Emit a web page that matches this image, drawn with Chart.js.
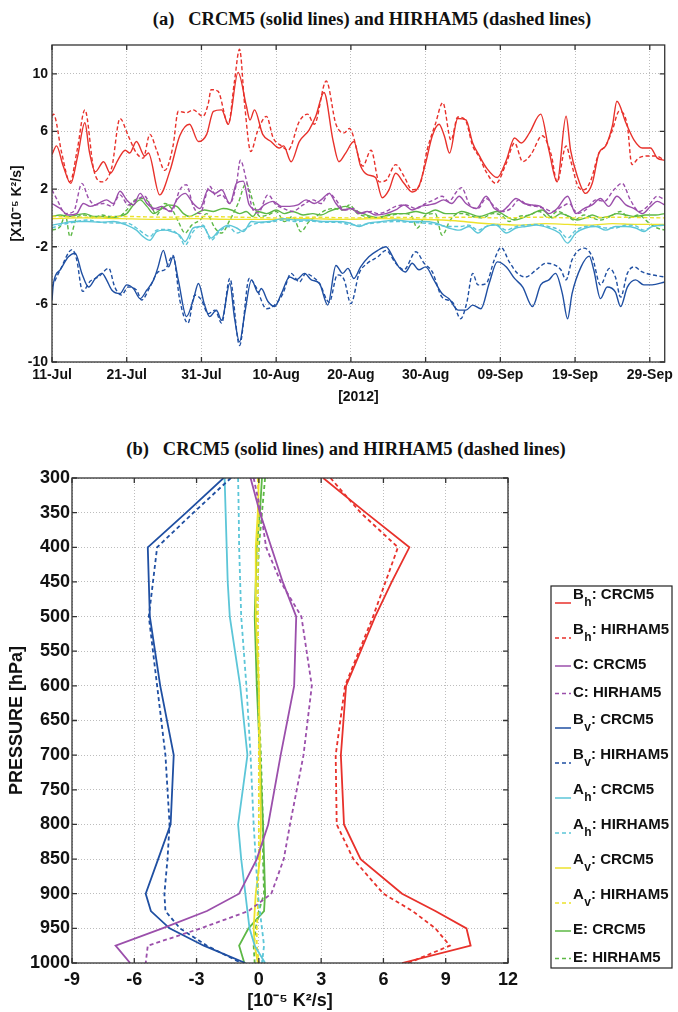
<!DOCTYPE html>
<html>
<head>
<meta charset="utf-8">
<script src="https://cdn.jsdelivr.net/npm/chart.js@4.4.0/dist/chart.umd.min.js"></script>
<style>
html, body { margin: 0; padding: 0; background: #fff; width: 678px; height: 1012px; overflow: hidden; position: relative; }
canvas { position: absolute; left: 0; }
#top { top: 0; }
#bot { top: 420px; }
.ttl { position: absolute; font: bold 18.5px "Liberation Serif", "Times New Roman", serif; color: #111; white-space: pre; transform: translateX(-50%); }
</style>
</head>
<body>
<div class="ttl" style="left:372px;top:9px">(a)   CRCM5 (solid lines) and HIRHAM5 (dashed lines)</div>
<canvas id="top" width="678" height="410"></canvas>
<div class="ttl" style="left:346px;top:439px">(b)   CRCM5 (solid lines) and HIRHAM5 (dashed lines)</div>
<canvas id="bot" width="678" height="592"></canvas>
<script>
// ---- panel (a): time series, [day since 11-Jul, value] ----
const dayTicks = [0, 10, 20, 30, 40, 50, 60, 70, 80];
const dayLabels = ["11-Jul", "21-Jul", "31-Jul", "10-Aug", "20-Aug", "30-Aug", "09-Sep", "19-Sep", "29-Sep"];
const topYTicks = [-10, -6, -2, 2, 6, 10];

const bhC_t = [[0,4.4],[0.6,5.0],[1.5,3.6],[2.5,2.4],[3.4,4.2],[4.4,6.6],[5.0,4.6],[5.8,3.2],[6.9,3.9],[7.8,3.1],[8.8,4.0],[9.8,4.7],[10.4,4.5],[11.3,5.3],[12.4,4.3],[12.9,4.5],[14.4,1.6],[15.8,3.3],[17.1,5.7],[18.4,6.5],[19.6,5.3],[20.7,5.8],[21.6,7.4],[22.7,7.5],[23.6,6.5],[24.9,10.1],[26.0,7.8],[26.5,6.8],[27.1,7.5],[28.2,5.8],[29.3,5.3],[30.4,4.85],[31.0,5.0],[32.0,3.9],[33.1,5.3],[34.4,6.1],[35.3,7.05],[36.4,8.7],[37.6,5.4],[38.4,3.9],[39.3,4.5],[40.4,5.3],[41.3,3.6],[42.2,3.0],[43.3,2.8],[44.2,1.4],[45.1,1.95],[46.0,3.1],[47.1,2.4],[48.2,1.8],[49.1,2.2],[50.0,3.8],[50.9,5.7],[51.8,6.5],[52.5,5.7],[53.2,4.5],[54.3,6.9],[55.4,6.8],[56.3,5.2],[57.2,4.3],[58.1,3.5],[59.6,2.8],[60.8,4.0],[61.9,5.55],[62.8,5.2],[63.9,5.9],[65.4,7.2],[66.5,4.7],[67.6,2.5],[68.8,7.05],[69.4,4.7],[70.3,2.9],[71.4,1.7],[72.3,2.4],[73.2,4.5],[74.1,5.0],[75.0,6.4],[75.6,8.1],[76.8,6.6],[77.9,5.4],[79.0,4.85],[80.1,4.85],[81.0,4.15],[82,4.0]];
const bhH_t = [[0,7.05],[0.2,7.2],[1.3,4.5],[2.4,2.5],[3.4,4.8],[4.4,7.5],[5.6,3.3],[6.7,2.5],[8.0,3.5],[9.1,6.9],[10.2,5.7],[11.3,4.5],[12.2,4.15],[13.1,5.8],[14.0,4.7],[15.1,3.3],[16.2,5.0],[16.9,7.4],[18.0,7.3],[18.9,7.5],[20.2,7.05],[20.9,7.9],[21.3,8.9],[22.2,8.8],[23.6,6.5],[24.4,9.4],[25.1,11.7],[25.8,7.75],[26.6,4.6],[27.5,6.0],[28.7,7.05],[29.6,5.55],[30.7,5.0],[31.6,4.7],[33.1,6.7],[34.2,7.2],[35.1,6.5],[36.7,9.5],[38.0,6.5],[39.1,5.9],[39.8,6.2],[41.6,3.6],[42.7,4.7],[43.8,2.5],[44.7,2.6],[46.0,3.7],[47.1,2.9],[48.2,1.95],[49.3,2.4],[50.2,4.7],[51.3,6.5],[52.3,8.0],[53.4,5.4],[54.3,7.0],[55.3,6.8],[56.3,5.0],[57.2,4.2],[58.1,3.2],[59.4,2.4],[60.8,3.8],[61.9,5.2],[63.0,3.9],[64.1,4.4],[65.6,5.7],[66.8,4.4],[67.6,2.5],[68.8,5.0],[69.4,4.0],[70.5,2.1],[71.2,1.95],[72.1,2.6],[73.2,4.5],[74.1,5.0],[75.0,6.1],[75.9,7.4],[77.0,6.4],[77.6,3.7],[78.5,4.15],[79.9,4.3],[80.8,4.3],[82,4.0]];
const cC_t = [[0,1.0],[1.1,0.65],[2.2,0.2],[3.3,0.3],[4.2,1.0],[5.1,0.8],[6.2,1.0],[7.3,1.25],[8.2,1.0],[9.1,1.85],[10.0,1.25],[10.9,0.9],[11.8,1.7],[12.7,1.0],[13.8,0.65],[14.7,0.8],[15.8,0.45],[16.7,1.25],[17.8,1.7],[18.9,1.0],[19.8,0.65],[20.9,1.95],[21.8,1.7],[22.7,1.95],[23.8,1.0],[24.7,2.4],[25.6,2.55],[26.4,0.9],[27.6,0.55],[28.4,0.9],[29.6,1.15],[30.7,0.8],[31.8,0.8],[32.9,0.9],[34.0,1.25],[35.1,1.0],[36.0,1.25],[37.1,1.7],[38.0,1.0],[38.9,0.55],[40.0,0.65],[41.1,0.3],[42.2,0.45],[43.3,0.2],[44.7,0.3],[46.0,0.55],[47.1,0.9],[48.2,0.55],[49.3,0.8],[50.4,0.9],[51.3,1.0],[52.4,1.25],[53.5,1.0],[54.5,1.5],[55.4,1.0],[56.8,0.65],[58.1,1.5],[59.2,0.65],[60.1,0.45],[61.0,0.8],[62.1,1.35],[63.2,1.0],[64.3,0.9],[65.4,0.8],[66.5,0.3],[67.6,0.65],[69.0,1.5],[70.1,0.3],[71.2,0.65],[72.3,0.9],[73.4,1.35],[74.5,0.8],[75.6,1.5],[76.8,0.9],[77.9,0.65],[79.0,0.3],[80.1,0.8],[81.0,1.15],[82,0.9]];
const cH_t = [[0,1.95],[0.7,1.25],[1.8,0.3],[2.9,0.45],[4.0,2.4],[4.9,1.35],[5.8,0.9],[6.9,1.0],[8.0,0.8],[9.1,1.6],[10.2,0.9],[11.3,1.25],[12.4,1.5],[13.6,0.55],[14.9,0.65],[16.0,0.45],[17.1,1.95],[18.0,2.3],[18.9,0.8],[19.8,0.3],[21.1,2.2],[22.0,1.5],[22.7,1.6],[23.8,1.0],[24.7,2.4],[25.2,4.0],[26.0,2.65],[26.9,0.55],[27.6,0.35],[28.9,1.6],[30.0,0.9],[31.0,0.65],[32.2,0.45],[33.6,0.9],[34.9,1.25],[36.0,1.0],[37.1,1.7],[38.0,1.25],[39.1,0.55],[40.4,0.65],[41.3,0.3],[42.7,0.45],[43.6,0.3],[44.7,0.45],[46.0,0.8],[47.3,0.9],[48.7,0.65],[50.0,1.0],[51.1,1.25],[52.2,1.5],[53.1,1.15],[54.2,1.85],[54.8,2.1],[55.9,0.9],[57.0,0.65],[58.1,1.35],[59.2,0.8],[60.3,0.45],[61.4,0.65],[62.5,1.25],[63.6,0.9],[64.8,0.8],[65.9,0.65],[67.0,0.45],[68.3,0.8],[69.2,1.0],[70.3,0.3],[71.4,0.55],[72.8,1.25],[73.9,1.15],[75.2,1.95],[76.3,2.4],[77.4,1.25],[78.6,0.45],[79.9,0.9],[81.0,1.5],[82,1.25]];
const bvC_t = [[0,-5.7],[0.2,-4.5],[1.1,-3.6],[2.2,-2.7],[3.1,-2.45],[4.0,-3.85],[4.9,-4.8],[5.8,-4.2],[6.7,-3.85],[7.3,-4.3],[8.0,-5.0],[9.1,-5.25],[10.0,-4.65],[10.9,-4.9],[11.8,-5.6],[12.7,-5.0],[13.6,-4.3],[14.2,-3.4],[14.9,-2.25],[15.6,-3.4],[16.2,-2.7],[16.9,-4.3],[18.0,-6.85],[18.9,-5.7],[19.6,-4.55],[20.4,-6.0],[21.1,-6.85],[22.0,-6.4],[22.7,-7.1],[23.8,-4.55],[24.4,-6.85],[25.1,-8.6],[25.8,-6.6],[26.7,-4.3],[27.6,-5.2],[28.0,-4.9],[28.9,-5.8],[29.8,-6.15],[30.7,-5.25],[31.8,-4.1],[32.7,-4.3],[33.8,-3.85],[34.7,-4.3],[35.8,-4.55],[36.9,-6.05],[38.0,-3.3],[38.9,-3.85],[39.6,-3.5],[40.4,-4.2],[41.3,-3.4],[42.4,-2.7],[43.6,-2.25],[44.7,-2.0],[45.6,-2.7],[46.4,-3.4],[47.3,-3.75],[48.2,-3.15],[49.1,-3.6],[50.0,-3.4],[51.1,-4.3],[52.2,-5.25],[53.1,-5.6],[54.4,-6.4],[55.4,-6.4],[56.3,-6.05],[57.4,-6.3],[58.5,-4.55],[59.6,-3.05],[60.8,-3.4],[61.9,-4.2],[63.0,-4.8],[64.3,-6.15],[65.4,-4.65],[66.5,-4.3],[67.4,-3.85],[68.3,-5.25],[69.0,-7.0],[69.6,-5.25],[70.8,-3.4],[71.9,-2.65],[72.5,-3.6],[73.4,-5.6],[74.3,-4.8],[75.4,-5.15],[76.1,-6.15],[77.0,-4.8],[78.1,-4.3],[79.2,-4.65],[80.3,-4.65],[82,-4.45]];
const bvH_t = [[0,-4.8],[1.1,-3.6],[2.7,-2.2],[3.3,-2.9],[4.1,-5.1],[5.1,-4.4],[6.2,-4.1],[7.6,-3.5],[8.4,-4.8],[9.3,-5.35],[10.2,-4.8],[11.3,-5.0],[12.0,-5.7],[13.1,-4.8],[14.2,-3.75],[15.1,-3.6],[16.2,-2.6],[17.1,-5.7],[18.2,-7.3],[19.1,-5.35],[20.0,-5.7],[20.9,-6.65],[21.8,-6.4],[22.7,-7.3],[23.8,-4.2],[25.1,-8.85],[26.4,-4.2],[27.3,-4.8],[28.7,-6.3],[29.8,-6.05],[30.9,-5.25],[32.0,-3.85],[33.1,-4.45],[34.0,-3.85],[34.9,-4.1],[35.8,-4.55],[37.1,-5.85],[38.2,-3.95],[39.1,-4.3],[40.0,-5.95],[41.1,-3.85],[42.2,-3.15],[43.6,-2.7],[44.7,-2.25],[46.0,-3.15],[47.1,-3.6],[48.7,-2.35],[49.8,-3.15],[50.9,-3.75],[52.2,-5.5],[53.6,-5.85],[54.7,-7.0],[55.5,-5.9],[56.3,-3.85],[57.0,-4.65],[58.1,-4.55],[59.2,-2.9],[60.1,-2.05],[61.2,-3.05],[62.3,-3.85],[63.4,-4.1],[64.8,-3.6],[66.1,-3.15],[67.2,-3.25],[68.1,-3.6],[68.8,-4.3],[69.6,-2.9],[71.2,-2.1],[72.3,-2.7],[73.4,-4.65],[74.6,-3.5],[75.4,-4.1],[76.1,-5.5],[77.0,-3.85],[77.9,-3.4],[79.0,-3.75],[80.3,-3.95],[82,-4.1]];
const ahC_t = [[0,-0.5],[1.1,-0.4],[2.9,-0.25],[4.7,-0.25],[6.4,-0.3],[8.2,-0.25],[10.0,-0.5],[11.3,-0.85],[12.2,-1.3],[13.1,-1.55],[14.0,-0.95],[15.1,-0.85],[16.0,-0.95],[17.1,-1.2],[17.8,-1.65],[18.9,-0.7],[20.2,-0.6],[21.3,-1.4],[22.4,-0.85],[23.6,-0.5],[24.7,-0.7],[25.6,-0.95],[26.7,-0.25],[27.6,-0.3],[29.1,-0.25],[30.9,-0.05],[32.7,-0.15],[34.4,-0.15],[36.2,-0.25],[38.0,-0.25],[39.8,-0.35],[41.1,-0.6],[42.4,-0.35],[44.2,-0.25],[46.0,-0.15],[47.8,-0.25],[49.6,-0.25],[51.3,-0.35],[53.1,-0.7],[54.5,-0.85],[55.8,-0.6],[57.0,-1.05],[58.1,-0.6],[59.4,-0.5],[60.8,-1.05],[62.1,-0.7],[63.4,-0.6],[64.8,-0.5],[66.5,-0.7],[67.9,-1.05],[69.0,-1.75],[70.1,-1.05],[71.4,-0.7],[72.8,-0.6],[74.1,-0.85],[75.4,-0.6],[76.8,-0.6],[78.1,-0.7],[79.2,-0.95],[80.3,-0.6],[82,-0.5]];
const ahH_t = [[0,-0.7],[1.1,-0.5],[2.9,-0.3],[4.7,-0.15],[6.4,-0.3],[8.2,-0.35],[10.0,-0.35],[11.3,-0.7],[12.2,-1.05],[13.1,-1.3],[14.0,-0.85],[15.1,-0.8],[16.0,-0.85],[17.1,-1.3],[17.8,-1.9],[18.9,-0.95],[20.2,-0.5],[21.3,-1.55],[22.4,-0.95],[23.6,-0.6],[24.7,-1.05],[25.6,-0.85],[26.7,-0.5],[27.6,-0.35],[29.1,-0.3],[30.9,-0.15],[32.7,-0.25],[34.4,-0.2],[36.2,-0.3],[38.0,-0.3],[39.8,-0.45],[41.1,-0.5],[42.4,-0.4],[44.2,-0.3],[46.0,-0.25],[47.8,-0.3],[49.6,-0.35],[51.3,-0.45],[53.1,-0.6],[54.5,-0.6],[55.8,-0.5],[57.0,-0.85],[58.1,-0.6],[59.4,-0.45],[60.8,-0.85],[62.1,-0.6],[63.4,-0.5],[64.8,-0.45],[66.5,-0.6],[67.9,-0.85],[69.0,-1.4],[70.1,-0.85],[71.4,-0.6],[72.8,-0.55],[74.1,-0.7],[75.4,-0.7],[76.8,-0.5],[78.1,-0.55],[79.2,-0.85],[80.3,-0.6],[82,-0.5]];
const avC_t = [[0,-0.05],[4,0.0],[9,-0.05],[14,-0.1],[19,-0.05],[24,-0.1],[29,-0.1],[34,-0.05],[39,-0.1],[44,-0.05],[49,-0.1],[54,-0.2],[57,-0.35],[60,-0.45],[62.5,-0.5],[66,-0.4],[69,-0.45],[72,-0.5],[75,-0.4],[78,-0.45],[82,-0.45]];
const avH_t = [[0,0.1],[5,0.05],[10,0.1],[15,0.05],[20,0.1],[25,0.05],[30,0.0],[35,0.05],[40,0.0],[45,0.05],[50,0.0],[55,0.05],[60,0.0],[65,0.05],[70,0.0],[75,0.05],[82,0.0]];
const eC_t = [[0,0.1],[1.1,0.2],[2.2,0.1],[3.3,0.2],[4.4,0.3],[5.6,0.1],[6.7,0.1],[7.8,0.0],[8.9,0.1],[10.0,0.3],[10.9,0.9],[11.8,1.25],[12.7,0.8],[13.6,0.3],[14.7,0.65],[15.6,0.9],[16.7,0.8],[17.6,0.3],[18.4,0.1],[19.3,0.3],[20.4,0.55],[21.6,0.45],[22.9,0.65],[24.0,0.55],[25.1,0.3],[26.0,0.45],[26.9,0.1],[27.5,0.45],[28.7,0.3],[30.0,0.55],[31.1,0.3],[32.2,0.45],[33.6,0.2],[34.9,0.3],[36.0,0.2],[37.1,0.45],[38.2,0.65],[39.3,0.8],[40.4,0.55],[41.6,0.3],[42.7,0.1],[43.8,0.0],[44.9,0.2],[46.0,0.3],[47.3,0.3],[48.7,0.45],[50.0,0.3],[51.3,0.55],[52.7,0.3],[54.0,0.3],[54.8,0.45],[55.9,0.3],[57.2,0.1],[58.5,0.3],[59.6,0.45],[60.8,0.1],[61.9,-0.15],[63.0,0.0],[64.3,0.3],[65.6,0.55],[67.0,0.0],[68.1,0.3],[69.2,0.1],[70.3,-0.15],[71.4,0.0],[72.3,0.2],[73.4,0.0],[74.5,0.1],[75.6,0.3],[76.8,0.2],[78.1,0.1],[79.4,0.2],[80.8,0.2],[82,0.3]];
const eH_t = [[0,-0.85],[1.1,-0.6],[1.8,0.2],[2.4,-1.3],[3.3,0.0],[4.4,0.2],[5.6,0.0],[6.7,0.2],[7.8,0.1],[8.9,0.1],[10.0,0.55],[11.1,1.25],[12.2,1.35],[13.1,1.0],[14.0,0.2],[15.1,1.0],[16.0,0.65],[16.9,-0.25],[17.8,-1.05],[18.7,-0.5],[19.8,-0.15],[20.7,0.3],[21.8,-0.7],[22.7,-1.05],[23.8,-0.15],[24.9,1.0],[26.0,2.4],[26.5,1.8],[27.1,0.8],[27.8,0.1],[28.9,0.2],[30.0,0.45],[31.1,-0.25],[32.2,0.1],[33.3,-0.95],[34.4,-0.25],[35.6,0.2],[36.7,0.55],[37.8,0.65],[38.9,0.55],[39.8,0.9],[40.9,0.3],[42.0,0.1],[43.1,0.0],[44.2,0.1],[45.6,0.2],[46.9,0.3],[48.0,0.2],[48.9,-0.7],[50.0,0.2],[51.3,0.3],[52.2,-1.2],[53.3,-0.15],[54.4,0.3],[55.0,0.3],[56.3,0.1],[57.6,0.0],[59.0,0.3],[60.1,0.2],[61.2,-0.25],[62.5,0.1],[63.9,0.2],[65.2,0.45],[66.5,0.0],[67.6,0.45],[68.8,0.2],[69.9,-0.15],[71.2,0.2],[72.3,0.0],[73.4,-0.15],[74.7,0.1],[76.1,0.45],[77.2,0.0],[78.5,0.2],[79.9,-0.35],[81.0,-0.7],[82,-0.85]];

// ---- panel (b): vertical profiles ----
const levels = [300, 350, 400, 450, 500, 600, 700, 800, 850, 900, 925, 950, 975, 1000];
const bhC_p = [3.1, 5.15, 7.25, 6.4, 5.6, 4.2, 3.95, 4.1, 4.9, 6.9, 8.5, 10.0, 10.2, 6.9];
const bhH_p = [3.45, 4.9, 6.7, 6.1, 5.5, 4.15, 3.7, 3.75, 4.55, 6.0, 7.4, 8.5, 9.2, 7.2];
const cC_p = [-0.4, 0.05, 0.6, 1.15, 1.8, 1.7, 1.05, 0.45, -0.1, -0.95, -2.5, -4.65, -6.9, -6.2];
const cH_p = [-0.25, 0.1, 0.35, 1.05, 2.05, 2.55, 2.15, 1.5, 1.2, 0.6, -0.5, -2.8, -5.35, -5.45];
const bvC_p = [-1.7, -3.5, -5.35, -5.3, -5.25, -4.75, -4.1, -4.25, -4.85, -5.45, -5.2, -4.3, -2.65, -0.65];
const bvH_p = [-1.35, -3.15, -4.9, -5.1, -5.3, -4.9, -4.5, -4.3, -4.4, -4.55, -4.5, -3.8, -2.5, -0.85];
const ahC_p = [-1.65, -1.6, -1.55, -1.5, -1.4, -0.9, -0.55, -1.0, -0.85, -0.65, -0.55, -0.45, -0.2, 0.3];
const ahH_p = [-1.0, -0.97, -0.95, -0.9, -0.85, -0.6, -0.4, -0.25, -0.15, -0.05, 0.05, 0.15, 0.25, 0.15];
const avC_p = [0.0, -0.05, -0.15, -0.15, -0.15, 0.0, 0.05, 0.1, 0.05, -0.15, -0.2, -0.25, -0.2, -0.05];
const avH_p = [-0.05, 0.0, -0.05, -0.05, -0.05, 0.0, 0.0, 0.0, 0.0, -0.05, -0.05, -0.1, -0.1, 0.0];
const eC_p = [0.15, 0.05, -0.1, -0.15, -0.2, -0.1, 0.05, 0.2, 0.25, 0.3, 0.25, -0.5, -0.95, -0.7];
const eH_p = [0.3, 0.15, 0.0, -0.05, -0.1, -0.05, 0.1, 0.2, 0.2, 0.25, 0.0, -0.15, -0.25, -0.2];

// legend naming
const letters = ["B", "B", "C", "C", "B", "B", "A", "A", "A", "A", "E", "E"];
const subs = ["h", "h", "", "", "v", "v", "h", "h", "v", "v", "", ""];
const models = ["CRCM5", "HIRHAM5", "CRCM5", "HIRHAM5", "CRCM5", "HIRHAM5", "CRCM5", "HIRHAM5", "CRCM5", "HIRHAM5", "CRCM5", "HIRHAM5"];

const RED = "#e8312b", PURPLE = "#9b4fab", BLUE = "#1f4fa2", CYAN = "#5cc6d8", YELLOW = "#ece22c", GREEN = "#5db845";
const colors = [RED, RED, PURPLE, PURPLE, BLUE, BLUE, CYAN, CYAN, YELLOW, YELLOW, GREEN, GREEN];
const topData = [bhC_t, bhH_t, cC_t, cH_t, bvC_t, bvH_t, ahC_t, ahH_t, avC_t, avH_t, eC_t, eH_t];
const botData = [bhC_p, bhH_p, cC_p, cH_p, bvC_p, bvH_p, ahC_p, ahH_p, avC_p, avH_p, eC_p, eH_p];

const SANS = '"Liberation Sans", Arial, Helvetica, sans-serif';
const INK = "#111";

// box around plot area + matlab style inward ticks
const frame = {
  id: "frame",
  afterDraw(chart) {
    const { ctx, chartArea: a, scales } = chart;
    const len = 5;
    ctx.save();
    ctx.strokeStyle = "#333";
    ctx.lineWidth = 1.3;
    ctx.strokeRect(a.left, a.top, a.right - a.left, a.bottom - a.top);
    ctx.beginPath();
    scales.x.ticks.forEach(t => {
      const px = scales.x.getPixelForValue(t.value);
      ctx.moveTo(px, a.bottom); ctx.lineTo(px, a.bottom - len);
      ctx.moveTo(px, a.top); ctx.lineTo(px, a.top + len);
    });
    scales.y.ticks.forEach(t => {
      const py = scales.y.getPixelForValue(t.value);
      ctx.moveTo(a.left, py); ctx.lineTo(a.left + len, py);
      ctx.moveTo(a.right, py); ctx.lineTo(a.right - len, py);
    });
    ctx.stroke();
    ctx.restore();
  }
};

// legend with real subscripts, drawn from the datasets
const legendBox = {
  id: "legendBox",
  afterDraw(chart) {
    const ctx = chart.ctx;
    const x0 = 551, y0 = 166, w = 121, h = 382;
    ctx.save();
    ctx.strokeStyle = "#222";
    ctx.lineWidth = 1.2;
    ctx.strokeRect(x0, y0, w, h);
    ctx.textBaseline = "middle";
    let y = y0 + 9;
    chart.data.datasets.forEach(ds => {
      const ly = y + (ds.sub ? 8 : 1);
      ctx.strokeStyle = ds.borderColor;
      ctx.lineWidth = 1.5;
      ctx.setLineDash(ds.borderDash || []);
      ctx.beginPath(); ctx.moveTo(x0 + 4, ly); ctx.lineTo(x0 + 20, ly); ctx.stroke();
      ctx.setLineDash([]);
      ctx.fillStyle = INK;
      let tx = x0 + 22;
      ctx.font = "bold 15px " + SANS;
      ctx.fillText(ds.letter, tx, y);
      tx += ctx.measureText(ds.letter).width;
      if (ds.sub) {
        ctx.font = "bold 12px " + SANS;
        ctx.fillText(ds.sub, tx + 0.5, y + 8);
        tx += ctx.measureText(ds.sub).width + 0.5;
        ctx.font = "bold 15px " + SANS;
      }
      ctx.fillText(": " + ds.model, tx, y);
      y += ds.sub ? 35 : 27.5;
    });
    ctx.restore();
  }
};

function makeSets(list, toPoint, width, dash) {
  return list.map((arr, i) => ({
    label: letters[i] + subs[i] + ": " + models[i],
    letter: letters[i], sub: subs[i], model: models[i],
    data: toPoint(arr),
    borderColor: colors[i],
    borderWidth: width,
    borderDash: i % 2 ? dash : [],
    pointRadius: 0,
    fill: false
  }));
}

const tickFont = (size) => ({ family: SANS, weight: "bold", size });
const dottedGrid = { color: "#bdbdbd", lineWidth: 1, drawTicks: false };

new Chart(document.getElementById("top"), {
  type: "line",
  data: {
    datasets: makeSets(topData, arr => arr.map(p => ({ x: p[0], y: p[1] })), 1.4, [4, 2.5])
  },
  options: {
    responsive: false,
    animation: false,
    layout: { padding: { top: 45, right: 11, left: 0, bottom: 0 } },
    elements: { line: { cubicInterpolationMode: "monotone" } },
    plugins: { legend: { display: false }, tooltip: { enabled: false } },
    scales: {
      x: {
        type: "linear", min: 0, max: 82,
        afterBuildTicks: s => { s.ticks = dayTicks.map(v => ({ value: v })); },
        afterFit: s => { s.height = 48; },
        ticks: { callback: v => dayLabels[dayTicks.indexOf(v)], font: tickFont(14), color: INK, padding: 5, maxRotation: 0, autoSkip: false },
        grid: dottedGrid,
        border: { display: false, dash: [1, 2] },
        title: { display: true, text: "[2012]", font: tickFont(14), color: INK, padding: { top: 0, bottom: 4 } }
      },
      y: {
        type: "linear", min: -10, max: 12,
        afterBuildTicks: s => { s.ticks = topYTicks.map(v => ({ value: v })); },
        afterFit: s => { s.width = 52; },
        ticks: { callback: v => String(v), font: tickFont(14), color: INK, padding: 4 },
        grid: dottedGrid,
        border: { display: false, dash: [1, 2] },
        title: { display: true, text: "[X10\u207B\u2075 K\u00B2/s]", font: tickFont(14), color: INK, padding: { top: 9, bottom: 0 } }
      }
    }
  },
  plugins: [frame]
});

new Chart(document.getElementById("bot"), {
  type: "line",
  data: {
    datasets: makeSets(botData, arr => arr.map((v, k) => ({ x: v, y: levels[k] })), 1.8, [4, 3])
  },
  options: {
    responsive: false,
    animation: false,
    layout: { padding: { top: 58, right: 170, left: 0, bottom: 0 } },
    plugins: { legend: { display: false }, tooltip: { enabled: false } },
    scales: {
      x: {
        type: "linear", min: -9, max: 12,
        afterFit: s => { s.height = 49; },
        ticks: { stepSize: 3, callback: v => String(v), font: tickFont(18), color: INK, padding: 6, maxRotation: 0 },
        grid: dottedGrid,
        border: { display: false, dash: [1, 2] },
        title: { display: true, text: "[10\u207B\u2075 K\u00B2/s]", font: tickFont(18), color: INK, padding: { top: 0, bottom: 0 } }
      },
      y: {
        type: "linear", reverse: true, min: 300, max: 1000,
        afterFit: s => { s.width = 72; },
        ticks: { stepSize: 50, callback: v => String(v), font: tickFont(18), color: INK, padding: 2 },
        grid: dottedGrid,
        border: { display: false, dash: [1, 2] },
        title: { display: true, text: "PRESSURE [hPa]", font: tickFont(18), color: INK, padding: { top: 6, bottom: 0 } }
      }
    }
  },
  plugins: [frame, legendBox]
});
</script>
</body>
</html>
